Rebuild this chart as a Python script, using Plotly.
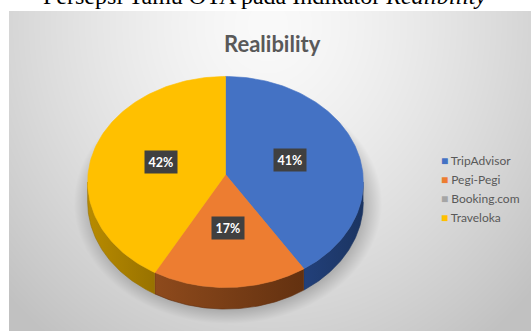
import base64
import struct
import zlib

import numpy as np
import plotly.graph_objects as go

# ---------------- data ----------------
labels = ["TripAdvisor", "Pegi-Pegi", "Booking.com", "Traveloka"]
values = [41, 17, 0, 42]
colors = ["#4472C4", "#ED7D31", "#A5A5A5", "#FFC000"]
side_colors = [["#22407A", "#1B3461"], ["#8E4A1C", "#633110"], ["#7A7A7A", "#5A5A5A"], ["#B88B00", "#987200"]]
title_text = "Realibility"
caption_text = "Persepsi Tamu OTA pada Indikator <i>Realibility</i>"

# ---------------- geometry / style ----------------
W, H = 531, 331
CX, CY = 225.5, 174.5      # projected pie centre
RA, RB = 137.5, 105.0      # horizontal / vertical radius
PERSP = -0.071             # perspective factor
DEPTH = 20.0               # thickness of the 3D pie


def proj(theta, r=1.0):
    u = r * np.sin(theta)
    v = -r * np.cos(theta)
    d = 1 + PERSP * v
    return CX + RA * u / d, CY + RB * v / d, d


def png_uri(img):
    h, w, _ = img.shape
    raw = b"".join(b"\x00" + img[i].tobytes() for i in range(h))

    def chunk(t, dat):
        c = struct.pack(">I", len(dat)) + t + dat
        return c + struct.pack(">I", zlib.crc32(t + dat) & 0xFFFFFFFF)

    png = (b"\x89PNG\r\n\x1a\n"
           + chunk(b"IHDR", struct.pack(">IIBBBBB", w, h, 8, 2, 0, 0, 0))
           + chunk(b"IDAT", zlib.compress(raw, 9))
           + chunk(b"IEND", b""))
    return "data:image/png;base64," + base64.b64encode(png).decode()


# background: radial grey gradient + soft shadow under the pie
BX0, BY0, BW, BH = 9, 11, W - 9, H - 11
yy, xx = np.mgrid[0:BH, 0:BW].astype(float)
X = xx + BX0 + 0.5
Y = yy + BY0 + 0.5
dist = np.sqrt(((X - 268) / 300) ** 2 + ((Y - 25) / 330) ** 2)
g = 250 - 44 * np.clip(dist, 0, 1.2) ** 1.4
e = np.sqrt(((X - 228) / 144) ** 2 + ((Y - 203) / 113) ** 2)
sh = np.clip((1.07 - e) / 0.13, 0, 1)
g = g * (1 - 0.2 * sh)
img = np.stack([g, g, g], -1).clip(0, 255).astype(np.uint8)
bg_uri = png_uri(img)

fig = go.Figure()

total = float(sum(values))
cum = np.cumsum([0] + values)
starts = cum[:-1] / total * 2 * np.pi
ends = cum[1:] / total * 2 * np.pi
t_left = np.arccos(PERSP)
t_right = 2 * np.pi - t_left

# side walls
for i in range(len(values)):
    if values[i] <= 0:
        continue
    lo, hi = max(starts[i], t_left), min(ends[i], t_right)
    if hi <= lo:
        continue
    th = np.linspace(lo, hi, 80)
    xt, yt, d = proj(th)
    yb = yt + DEPTH / d
    xs = np.concatenate([xt, xt[::-1]])
    ys = np.concatenate([yt, yb[::-1]])
    fig.add_trace(go.Scatter(
        x=xs, y=ys, mode="lines", fill="toself",
        line=dict(width=0.6, color=side_colors[i][1]),
        fillgradient=dict(type="horizontal",
                          colorscale=[[0, side_colors[i][0]], [1, side_colors[i][1]]]),
        hoverinfo="skip", showlegend=False))

# top faces
for i in range(len(values)):
    if values[i] <= 0:
        continue
    th = np.linspace(starts[i], ends[i], 120)
    xt, yt, _ = proj(th)
    xs = np.concatenate([[CX], xt, [CX]])
    ys = np.concatenate([[CY], yt, [CY]])
    fig.add_trace(go.Scatter(
        x=xs, y=ys, mode="lines", fill="toself", fillcolor=colors[i],
        line=dict(width=0.6, color=colors[i]),
        hoverinfo="skip", showlegend=False))

# legend entries (coloured square glyph inside the entry text)
for i in range(len(labels)):
    fig.add_trace(go.Scatter(
        x=[None], y=[None], mode="markers",
        marker=dict(size=0.1, color="rgba(0,0,0,0)", line=dict(width=0)),
        name='<span style="color:%s;font-size:12px">\u25A0</span> %s' % (colors[i], labels[i]),
        showlegend=True))

annotations = []
# percentage labels
for i in range(len(values)):
    if values[i] <= 0:
        continue
    mid = (starts[i] + ends[i]) / 2
    lx, ly, _ = proj(mid, 0.49)
    pct = "%d%%" % round(values[i] / total * 100)
    annotations.append(dict(x=lx, y=ly, xref="x", yref="y", text=pct, showarrow=False,
                            font=dict(family="Lato", size=12.5, color="white", weight="bold"),
                            bgcolor="#404040", borderpad=3.5))

annotations.append(dict(x=272, y=43, xref="x", yref="y", text=title_text, showarrow=False,
                        font=dict(family="Lato", size=22, color="#595959", weight="bold"),
                        xanchor="center", yanchor="middle"))
annotations.append(dict(x=265, y=11, xref="x", yref="y", text=caption_text, showarrow=False,
                        font=dict(family="Liberation Serif", size=24, color="black"),
                        xanchor="center", yanchor="bottom"))

fig.update_layout(
    width=W, height=H,
    margin=dict(l=0, r=0, t=0, b=0),
    paper_bgcolor="white",
    plot_bgcolor="rgba(0,0,0,0)",
    xaxis=dict(range=[0, W], visible=False, fixedrange=True),
    yaxis=dict(range=[H, 0], visible=False, fixedrange=True),
    images=[dict(source=bg_uri, xref="paper", yref="paper",
                 x=BX0 / W, y=1 - BY0 / H, sizex=BW / W, sizey=BH / H,
                 xanchor="left", yanchor="top", sizing="stretch", layer="below")],
    annotations=annotations,
    legend=dict(x=0.755, y=0.558, xanchor="left", yanchor="top",
                bgcolor="rgba(255,255,255,0)",
                font=dict(family="Lato", size=12, color="#595959"),
                itemwidth=30, tracegroupgap=0),
    showlegend=True,
)

fig.write_html("out.html")
